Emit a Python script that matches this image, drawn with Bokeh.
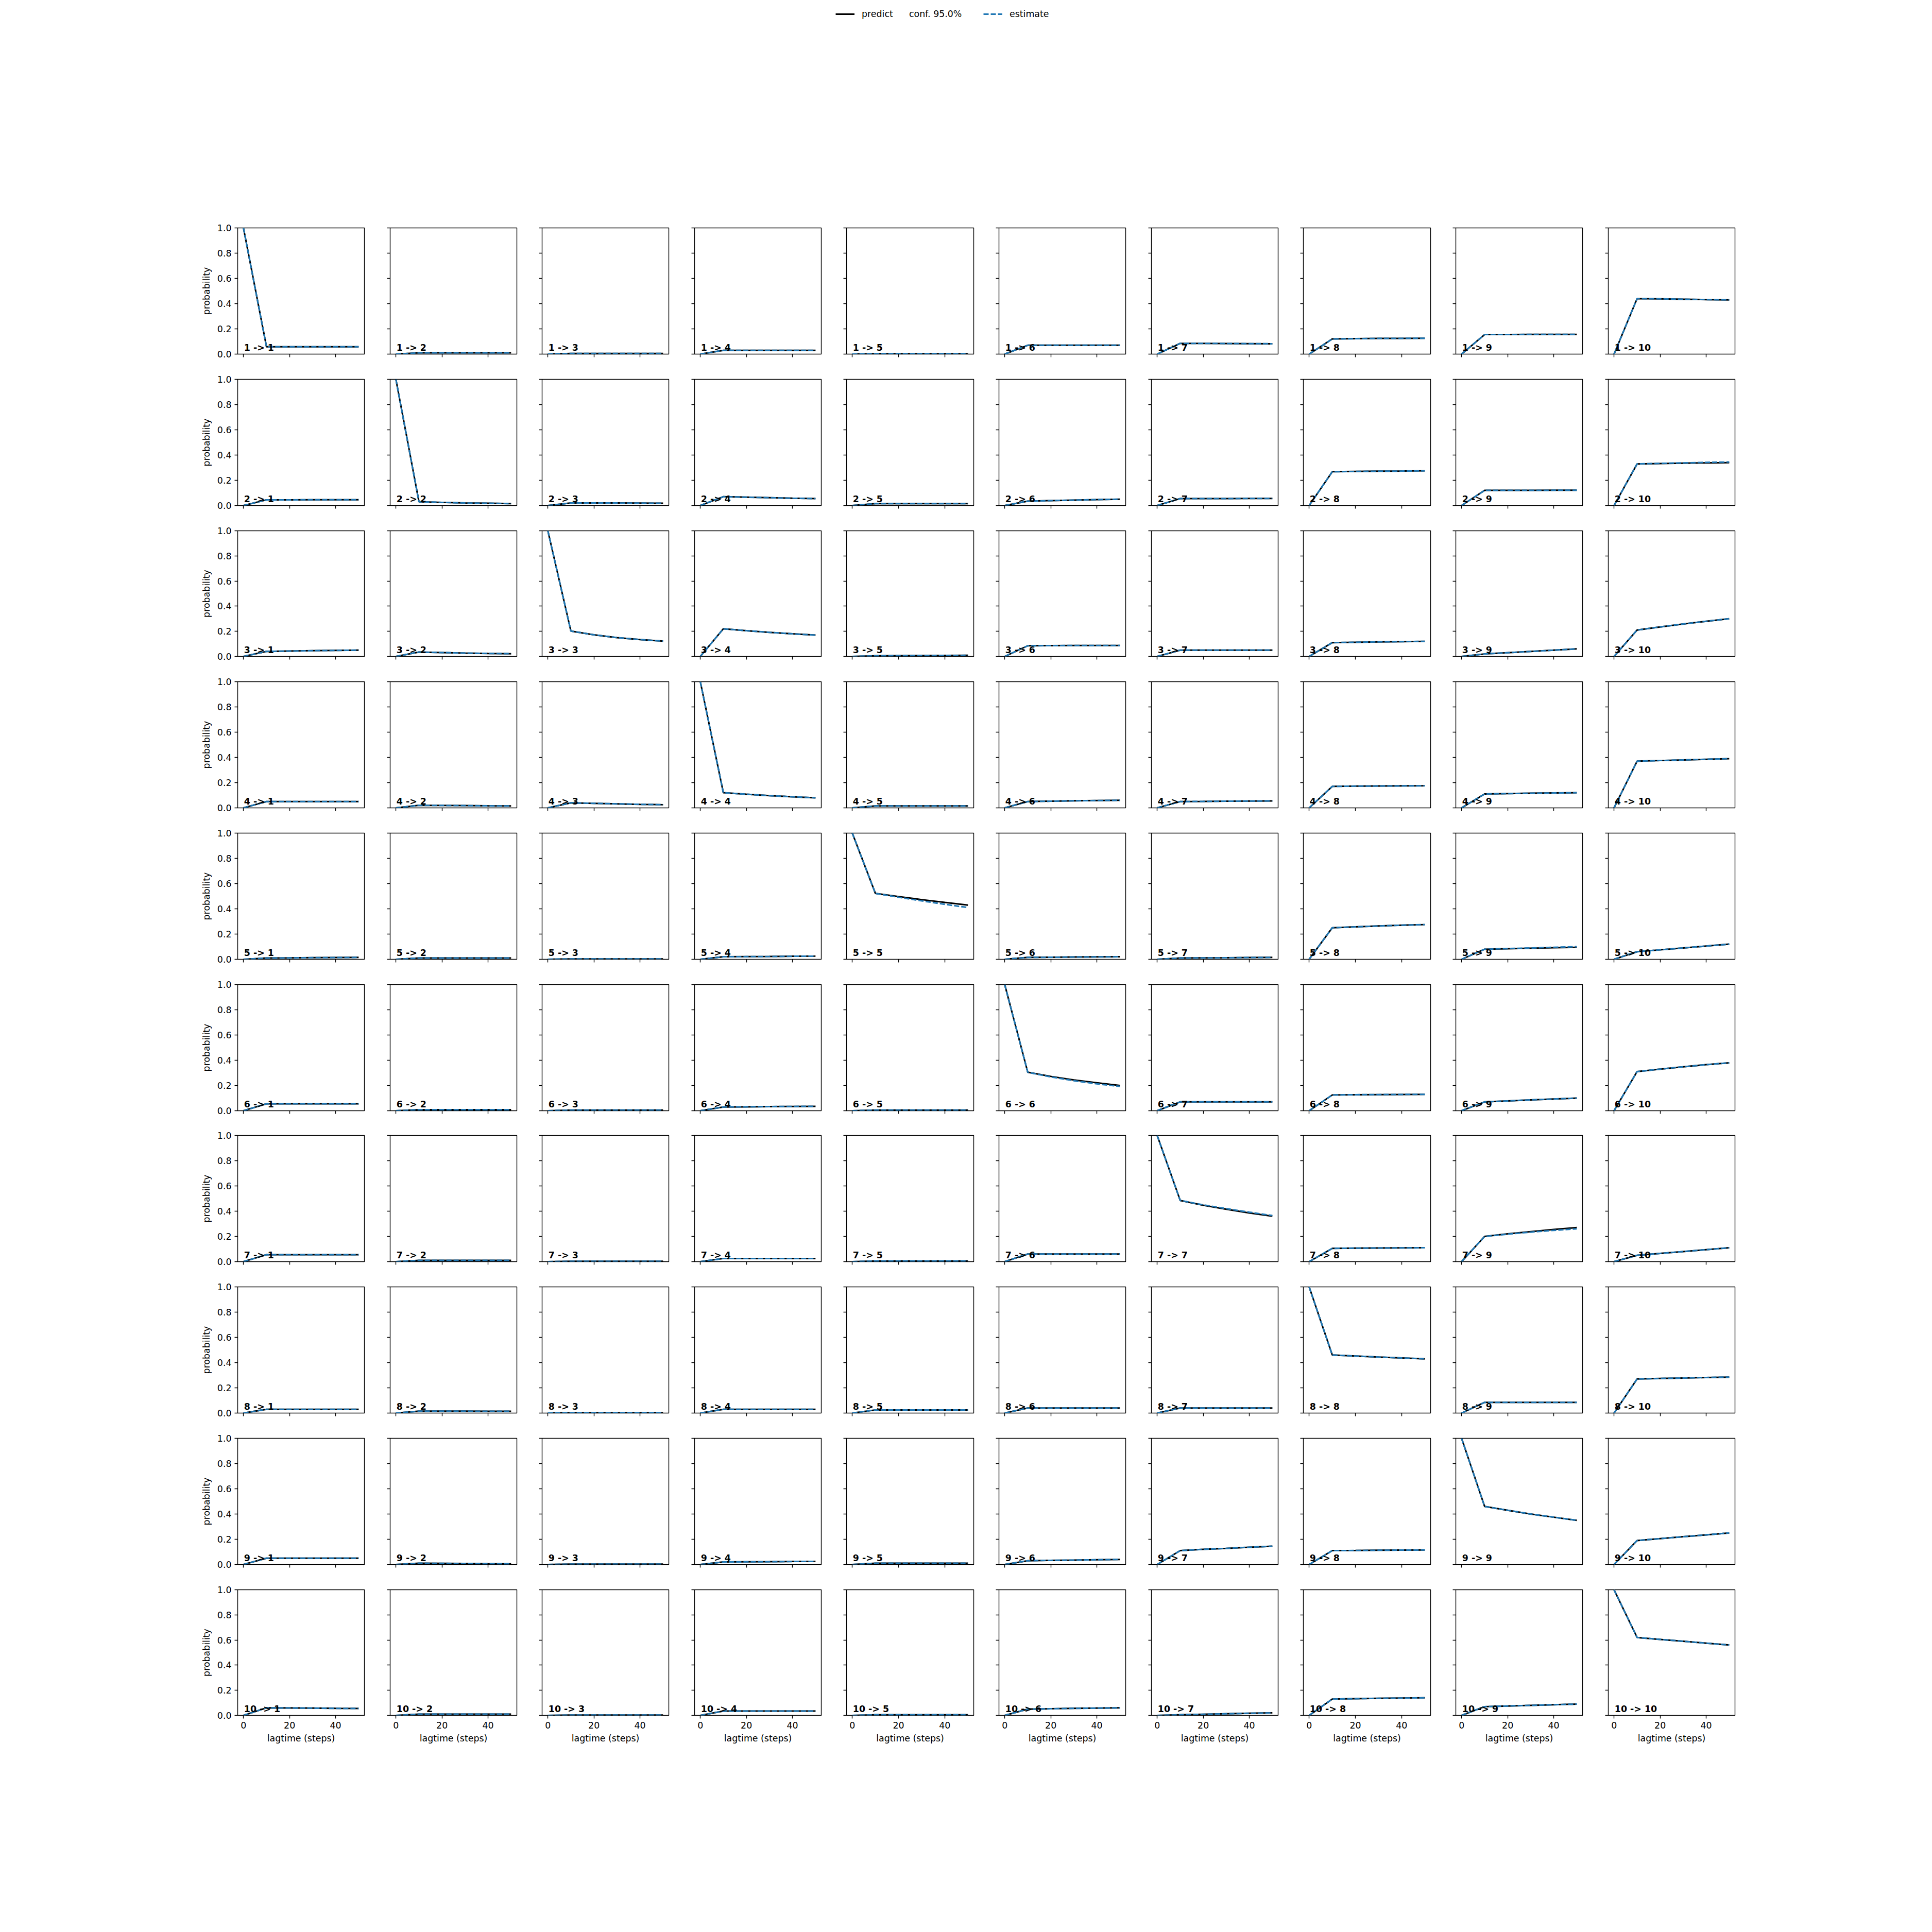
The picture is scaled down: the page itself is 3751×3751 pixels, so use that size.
from bokeh.plotting import figure
from bokeh.layouts import gridplot, column
from bokeh.models import Range1d, FixedTicker, Label, Legend, LegendItem
from bokeh.embed import file_html
from bokeh.resources import INLINE

# ---------------- data ----------------
states = [1, 2, 3, 4, 5, 6, 7, 8, 9, 10]
lagtimes = [0, 10, 20, 30, 40, 50]
x_ticks = [0, 20, 40]
x_tick_labels = ["0", "20", "40"]
y_ticks = [0.0, 0.2, 0.4, 0.6, 0.8, 1.0]
y_tick_labels = ["0.0", "0.2", "0.4", "0.6", "0.8", "1.0"]

# predicted transition probabilities i -> j at lagtimes 0..50
predict_from_1 = [
    [1, .058, .058, .058, .058, .058],
    [0, .01, .01, .01, .01, .01],
    [0, .005, .005, .005, .005, .005],
    [0, .03, .03, .03, .03, .03],
    [0, .003, .003, .003, .003, .003],
    [0, .07, .07, .07, .07, .07],
    [0, .085, .085, .084, .083, .082],
    [0, .12, .122, .124, .125, .126],
    [0, .155, .155, .156, .156, .156],
    [0, .44, .438, .435, .432, .43],
]
predict_from_2 = [
    [0, .045, .045, .046, .046, .046],
    [1, .03, .025, .02, .018, .015],
    [0, .02, .02, .02, .019, .018],
    [0, .07, .066, .062, .058, .055],
    [0, .015, .015, .015, .015, .015],
    [0, .035, .039, .043, .047, .05],
    [0, .055, .055, .055, .056, .056],
    [0, .268, .27, .272, .273, .275],
    [0, .12, .12, .12, .121, .121],
    [0, .33, .333, .336, .338, .34],
]
predict_from_3 = [
    [0, .04, .043, .046, .048, .05],
    [0, .035, .031, .027, .024, .022],
    [1, .202, .172, .15, .134, .122],
    [0, .22, .205, .192, .18, .17],
    [0, .005, .006, .007, .008, .009],
    [0, .085, .086, .087, .087, .087],
    [0, .05, .05, .05, .05, .05],
    [0, .11, .113, .116, .118, .12],
    [0, .02, .03, .04, .05, .06],
    [0, .21, .235, .258, .28, .3],
]
predict_from_4 = [
    [0, .05, .05, .05, .05, .05],
    [0, .02, .019, .018, .016, .015],
    [0, .04, .036, .032, .028, .025],
    [1, .12, .108, .097, .088, .08],
    [0, .015, .015, .015, .015, .015],
    [0, .05, .053, .056, .058, .06],
    [0, .05, .051, .053, .054, .055],
    [0, .17, .172, .173, .174, .175],
    [0, .11, .113, .116, .118, .12],
    [0, .37, .375, .38, .385, .39],
]
predict_from_5 = [
    [0, .01, .011, .013, .014, .015],
    [0, .01, .01, .01, .01, .01],
    [0, .003, .003, .003, .003, .003],
    [0, .02, .021, .022, .024, .025],
    [1, .522, .497, .473, .451, .43],
    [0, .015, .016, .018, .019, .02],
    [0, .01, .011, .012, .014, .015],
    [0, .25, .257, .264, .27, .275],
    [0, .08, .084, .088, .092, .095],
    [0, .06, .075, .09, .105, .12],
]
predict_from_6 = [
    [0, .055, .055, .055, .055, .055],
    [0, .008, .008, .008, .008, .008],
    [0, .005, .005, .005, .005, .005],
    [0, .03, .031, .033, .034, .035],
    [0, .005, .005, .005, .005, .005],
    [1, .305, .272, .244, .221, .2],
    [0, .07, .07, .07, .07, .07],
    [0, .125, .127, .128, .129, .13],
    [0, .07, .078, .086, .093, .1],
    [0, .31, .33, .348, .365, .38],
]
predict_from_7 = [
    [0, .055, .055, .055, .055, .055],
    [0, .01, .01, .01, .01, .01],
    [0, .003, .003, .003, .003, .003],
    [0, .025, .025, .025, .025, .025],
    [0, .005, .005, .005, .005, .005],
    [0, .06, .06, .06, .06, .06],
    [1, .485, .447, .415, .386, .36],
    [0, .105, .107, .108, .109, .11],
    [0, .2, .22, .238, .255, .27],
    [0, .05, .065, .08, .095, .11],
]
predict_from_8 = [
    [0, .03, .03, .03, .03, .03],
    [0, .015, .015, .015, .014, .014],
    [0, .003, .003, .003, .003, .003],
    [0, .03, .03, .03, .03, .03],
    [0, .025, .025, .025, .025, .025],
    [0, .04, .04, .04, .04, .04],
    [0, .04, .04, .04, .04, .04],
    [1, .46, .452, .444, .437, .43],
    [0, .085, .085, .085, .085, .085],
    [0, .27, .274, .278, .282, .285],
]
predict_from_9 = [
    [0, .05, .05, .05, .05, .05],
    [0, .01, .009, .008, .006, .005],
    [0, .003, .003, .003, .003, .003],
    [0, .02, .021, .022, .024, .025],
    [0, .01, .01, .01, .01, .01],
    [0, .03, .033, .035, .038, .04],
    [0, .11, .12, .128, .137, .145],
    [0, .11, .111, .113, .114, .115],
    [1, .46, .43, .4, .375, .35],
    [0, .19, .205, .22, .235, .25],
]
predict_from_10 = [
    [0, .06, .059, .058, .056, .055],
    [0, .01, .01, .01, .01, .01],
    [0, .003, .003, .003, .003, .003],
    [0, .035, .035, .035, .035, .035],
    [0, .005, .005, .005, .005, .005],
    [0, .05, .053, .056, .058, .06],
    [0, .005, .009, .013, .017, .02],
    [0, .13, .133, .136, .138, .14],
    [0, .07, .075, .08, .085, .09],
    [1, .62, .605, .59, .575, .56],
]
predict = [predict_from_1, predict_from_2, predict_from_3, predict_from_4,
           predict_from_5, predict_from_6, predict_from_7, predict_from_8,
           predict_from_9, predict_from_10]

# estimated values: equal to the prediction except in these panels
estimate_overrides = {
    (2, 10): [0, .33, .334, .338, .342, .345],
    (5, 5): [1, .522, .492, .463, .436, .41],
    (5, 9): [0, .08, .085, .09, .095, .1],
    (6, 6): [1, .305, .268, .238, .213, .193],
    (7, 7): [1, .485, .45, .42, .392, .365],
    (7, 9): [0, .2, .218, .234, .248, .26],
}

legend_labels = ["predict", "conf. 95.0%", "estimate"]

# ---------------- layout ----------------
FONT = "DejaVu Sans"
FS = "17.4px"
BLUE = "#1f77b4"
LW = 3
REF = 3751
M = 8
TOTAL = REF - 2 * M
N = 10
pw = REF * 0.775 / (N + (N - 1) * 0.2)
ph = REF * 0.77 / (N + (N - 1) * 0.2)
px = pw * 1.2
py = ph * 1.2
L = [round(REF * 0.125 + j * px) - M for j in range(N)]
R = [round(REF * 0.125 + j * px + pw) - M for j in range(N)]
T = [round(REF * 0.12 + i * py) - M for i in range(N)]
B = [round(REF * 0.12 + i * py + ph) - M for i in range(N)]
H0 = 60
cx = [0] + [(R[j - 1] + L[j]) // 2 for j in range(1, N)] + [TOTAL]
cy = [H0] + [(B[i - 1] + T[i]) // 2 for i in range(1, N)] + [TOTAL]

xmin, xmax = -2.5, 52.5


def hide_labels(ax):
    ax.major_label_text_font_size = "4px"
    ax.major_label_text_color = None
    ax.major_label_standoff = 0


rows = []
for i in range(N):
    row = []
    for j in range(N):
        p = figure(width=cx[j + 1] - cx[j], height=cy[i + 1] - cy[i],
                   min_border_left=L[j] - cx[j], min_border_right=cx[j + 1] - R[j],
                   min_border_top=T[i] - cy[i], min_border_bottom=cy[i + 1] - B[i],
                   x_range=Range1d(xmin, xmax), y_range=Range1d(0, 1),
                   output_backend="svg", toolbar_location=None, title=None)
        p.xgrid.visible = False
        p.ygrid.visible = False
        p.outline_line_color = "black"
        p.outline_line_width = 1.4
        p.outline_line_alpha = 1.0
        p.background_fill_color = "white"
        p.border_fill_color = "white"
        pred = predict[i][j]
        est = estimate_overrides.get((states[i], states[j]), pred)
        p.line(lagtimes, pred, line_color="black", line_width=LW)
        p.line(lagtimes, est, line_color=BLUE, line_width=LW, line_dash="10 4")
        p.add_layout(Label(x=xmin + 0.05 * (xmax - xmin), y=0.05,
                           text=f"{states[i]} -> {states[j]}",
                           text_font=FONT, text_font_style="bold",
                           text_font_size=FS, text_color="black",
                           text_baseline="alphabetic", text_align="left"))
        for ax in (p.xaxis[0], p.yaxis[0]):
            ax.axis_line_color = None
            ax.major_tick_out = 6
            ax.major_tick_in = 0
            ax.major_tick_line_width = 1.4
            ax.major_tick_line_color = "black"
            ax.minor_tick_line_color = None
            ax.major_label_text_font = FONT
            ax.major_label_text_color = "black"
            ax.axis_label_text_font = FONT
            ax.axis_label_text_font_size = FS
            ax.axis_label_text_font_style = "normal"
            ax.axis_label_text_color = "black"
        p.xaxis.ticker = FixedTicker(ticks=x_ticks)
        p.yaxis.ticker = FixedTicker(ticks=y_ticks)
        if i == N - 1:
            p.xaxis.major_label_overrides = dict(zip(x_ticks, x_tick_labels))
            p.xaxis.major_label_text_font_size = FS
            p.xaxis.major_label_standoff = 6
            p.xaxis.axis_label = "lagtime (steps)"
            p.xaxis.axis_label_standoff = 6
        else:
            hide_labels(p.xaxis[0])
        if j == 0:
            p.yaxis.major_label_overrides = dict(zip(y_ticks, y_tick_labels))
            p.yaxis.major_label_text_font_size = FS
            p.yaxis.major_label_standoff = 6
            p.yaxis.axis_label = "probability"
            p.yaxis.axis_label_standoff = 8
        else:
            hide_labels(p.yaxis[0])
        row.append(p)
    rows.append(row)

grid = gridplot(rows, toolbar_location=None)

# ---------------- legend header ----------------
# proxy renderers for the legend (their data sits outside the header's view)
header = figure(width=TOTAL, height=H0, min_border=0, x_range=Range1d(1000, 1001),
                y_range=Range1d(1000, 1001), output_backend="svg",
                toolbar_location=None, title=None)
header.axis.visible = False
header.xgrid.visible = False
header.ygrid.visible = False
header.outline_line_color = None
r_pred = header.line(lagtimes, predict_from_1[0], line_color="black", line_width=LW)
r_conf = header.line(lagtimes, predict_from_1[0], line_color=BLUE, line_alpha=0)
r_est = header.line(lagtimes, predict_from_1[0], line_color=BLUE, line_width=LW,
                    line_dash="10 4")

legend_x = [1630 - M, 1773 - M, 1917 - M]
legend_renderers = [r_pred, r_conf, r_est]
for k in range(3):
    lg = Legend(items=[LegendItem(label=legend_labels[k], renderers=[legend_renderers[k]])],
                location=(legend_x[k], 23), orientation="horizontal",
                glyph_width=0 if k == 1 else 37, glyph_height=20,
                label_standoff=0 if k == 1 else 14,
                padding=0, margin=0, spacing=0,
                border_line_alpha=0, background_fill_alpha=0,
                label_text_font=FONT, label_text_font_size=FS,
                label_text_color="black")
    header.add_layout(lg)

layout = column(header, grid)
open("out.html", "w").write(file_html(layout, INLINE))
